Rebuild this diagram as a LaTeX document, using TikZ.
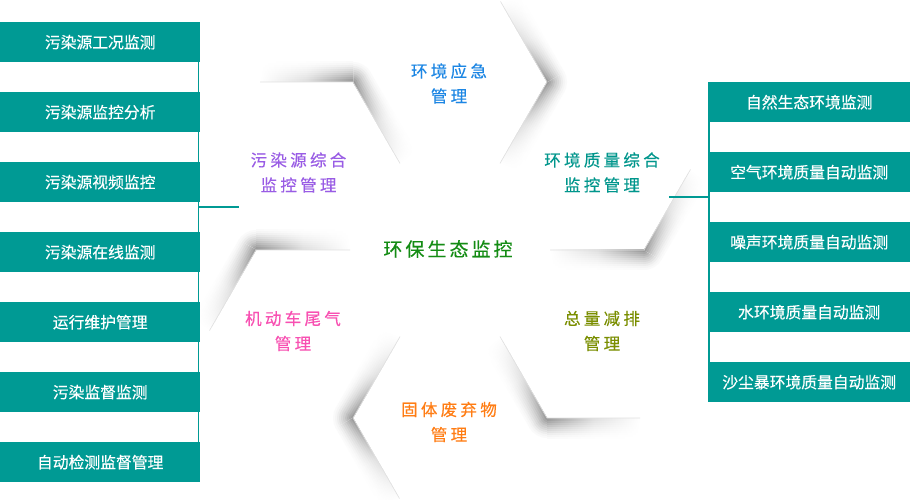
\documentclass[tikz,border=0pt]{standalone}
\usepackage{fontspec}
\newfontfamily\cjk[FakeBold=0.3]{Noto Sans CJK SC}
\newfontfamily\cjksp[LetterSpace=20,FakeBold=0.3]{Noto Sans CJK SC}
\newfontfamily\cjkc[LetterSpace=16,FakeBold=0.3]{Noto Sans CJK SC}
\definecolor{tealbox}{RGB}{0,154,148}
\definecolor{cblue}{RGB}{28,134,228}
\definecolor{cpurple}{RGB}{153,92,229}
\definecolor{cteal}{RGB}{0,150,140}
\definecolor{cgreen}{RGB}{20,140,20}
\definecolor{cpink}{RGB}{248,80,178}
\definecolor{colive}{RGB}{122,142,0}
\definecolor{corange}{RGB}{255,125,20}
\begin{document}
\begin{tikzpicture}[x=1pt,y=1pt,
  lbox/.style={fill=tealbox, text=white, minimum width=200pt, minimum height=40pt,
    inner sep=0pt, anchor=north west, font=\cjk\fontsize{15.8}{18}\selectfont},
  rbox/.style={lbox, minimum width=202pt},
  ptext/.style={align=center, inner sep=0pt, font=\cjksp\fontsize{16.5}{25}\selectfont},
  ctext/.style={inner sep=0pt, font=\cjkc\fontsize{19}{22}\selectfont, text=cgreen},
  bus/.style={draw=tealbox, line width=1.8pt},
  edgeline/.style={draw=black!12, line width=0.6pt}]
\useasboundingbox (0,0) rectangle (910,500);
\fill[white] (0,0) rectangle (910,500);

% ---- pinwheel shadows ----
\foreach \a in {0,60,...,300} {
  \pgfmathsetmacro\ox{450+194*cos(\a)}
  \pgfmathsetmacro\oy{250+194*sin(\a)}
  \pgfmathsetmacro\b{\a+60}
  \begin{scope}[transform canvas={rotate around={\a:(450,250)}}]
    \foreach \i/\c in {10/2,9/4,8/7,7/11,6/15,5/19,4/24,3/29,2/34,1/39} {
      \pgfmathsetmacro\m{\c*0.3}
      \shade[left color=white, right color=black!\c, middle color=black!\m]
        (550,{250-2*\i}) rectangle (644,250);
      \fill[black!\c] (644,250) -- ++(-92:{2*\i})
        arc[start angle=-92, end angle=-28, radius={2*\i}] -- cycle;
    }
  \end{scope}
  \begin{scope}[transform canvas={rotate around={\b:(\ox,\oy)}}]
    \foreach \i/\c in {10/2,9/4,8/7,7/11,6/15,5/19,4/24,3/29,2/34,1/39} {
      \pgfmathsetmacro\m{\c*0.3}
      \shade[left color=black!\c, right color=white, middle color=black!\m]
        (\ox,{\oy-2*\i}) rectangle ({\ox+93},\oy);
    }
  \end{scope}
  \begin{scope}[transform canvas={rotate around={\a:(450,250)}}]
    \draw[edgeline] (550,250) -- (644,250) -- ++(60:93);
  \end{scope}
}

% ---- pinwheel texts ----
\node[ptext, text=cblue]   (t1) at (449,416.5) {环境应急\\管理};
\node[ptext, text=cpurple] (t2) at (298.5,327.5) {污染源综合\\监控管理};
\node[ptext, text=cteal]   (t3) at (602,327.5) {环境质量综合\\监控管理};
\node[ptext, text=cpink]   (t4) at (293,169) {机动车尾气\\管理};
\node[ptext, text=colive]  (t5) at (602,169) {总量减排\\管理};
\node[ptext, text=corange] (t6) at (449,78) {固体废弃物\\管理};
\node[ctext] (tc) at (448,251) {环保生态监控};

% ---- left boxes ----
\node[lbox] (l1) at (0,478) {污染源工况监测};
\node[lbox] (l2) at (0,408) {污染源监控分析};
\node[lbox] (l3) at (0,338) {污染源视频监控};
\node[lbox] (l4) at (0,268) {污染源在线监测};
\node[lbox] (l5) at (0,198) {运行维护管理};
\node[lbox] (l6) at (0,128) {污染监督监测};
\node[lbox] (l7) at (0,58)  {自动检测监督管理};

% ---- right boxes ----
\node[rbox] (r1) at (708,418) {自然生态环境监测};
\node[rbox] (r2) at (708,348) {空气环境质量自动监测};
\node[rbox] (r3) at (708,278) {噪声环境质量自动监测};
\node[rbox] (r4) at (708,208) {水环境质量自动监测};
\node[rbox] (r5) at (708,138) {沙尘暴环境质量自动监测};

% ---- connectors ----
\coordinate (lj) at (239,293);
\coordinate (rj) at (669,303);
\draw[bus] ([xshift=-2pt]l1.south east) -- ([xshift=-2pt]l7.north east);
\draw[bus] ([xshift=-2pt]l1.east |- lj) -- (lj);
\draw[bus] ([xshift=1pt]r1.south west) -- ([xshift=1pt]r5.north west);
\draw[bus] (rj) -- ([xshift=1pt]r1.west |- rj);
\end{tikzpicture}
\end{document}
